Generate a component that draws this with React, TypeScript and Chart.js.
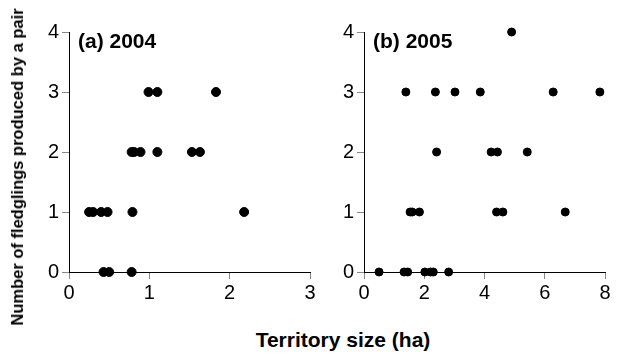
import React, { useEffect, useRef } from "react";
import { Chart, registerables } from "chart.js";

Chart.register(...registerables);

const yTicks = [0, 1, 2, 3, 4];
const xTicksA = [0, 1, 2, 3];
const xTicksB = [0, 2, 4, 6, 8];

const sizeA2004 = [0.99, 1.1, 1.83, 0.78, 0.81, 0.89, 1.1, 1.53, 1.63, 0.25, 0.3, 0.4, 0.48, 0.79, 2.18, 0.43, 0.5, 0.78];
const fledgA2004 = [3, 3, 3, 2, 2, 2, 2, 2, 2, 1, 1, 1, 1, 1, 1, 0, 0, 0];

const sizeB2005 = [4.9, 1.39, 2.37, 3.02, 3.86, 6.28, 7.83, 2.41, 4.22, 4.43, 5.42, 1.53, 1.6, 1.84, 4.4, 4.61, 6.68, 0.5, 1.33, 1.45, 2.02, 2.21, 2.3, 2.81];
const fledgB2005 = [4, 3, 3, 3, 3, 3, 3, 2, 2, 2, 2, 1, 1, 1, 1, 1, 1, 0, 0, 0, 0, 0, 0, 0];

const FONT = "'Liberation Sans', Arial, sans-serif";

type PanelProps = {
  left: number;
  width: number;
  xs: number[];
  ys: number[];
  xTicks: number[];
  xMax: number;
  label: string;
  yWidth: number;
  padRight: number;
  radius: number;
};

function Panel(props: PanelProps) {
  const ref = useRef<HTMLCanvasElement | null>(null);
  useEffect(() => {
    if (!ref.current) return;
    const { xs, ys, xTicks, xMax, label, yWidth, padRight, radius } = props;
    const data = xs.map((x, i) => ({ x, y: ys[i] }));
    const labelPlugin = {
      id: "panelLabel",
      afterDraw(chart: any) {
        const { ctx, chartArea } = chart;
        ctx.save();
        ctx.font = `bold 21px ${FONT}`;
        ctx.fillStyle = "#000";
        ctx.textBaseline = "middle";
        ctx.textAlign = "left";
        ctx.fillText(label, chartArea.left + 9, chartArea.top + 10);
        ctx.restore();
      },
    };
    const chart = new Chart(ref.current, {
      type: "scatter",
      data: {
        datasets: [
          {
            data,
            backgroundColor: "#000",
            borderColor: "#000",
            pointRadius: radius,
            pointHoverRadius: radius,
            clip: false,
          } as any,
        ],
      },
      options: {
        animation: false,
        responsive: false,
        events: [],
        layout: { padding: { top: 32, right: padRight, left: 0, bottom: 0 } },
        plugins: { legend: { display: false }, tooltip: { enabled: false } },
        scales: {
          x: {
            type: "linear",
            min: 0,
            max: xMax,
            afterBuildTicks: (s: any) => {
              s.ticks = xTicks.map((v) => ({ value: v }));
            },
            afterFit: (s: any) => {
              s.height = 48;
            },
            ticks: { color: "#000", font: { family: FONT, size: 20 }, padding: 2, maxRotation: 0 },
            grid: { drawOnChartArea: false, color: "#888", tickLength: 7 },
            border: { color: "#000", width: 1 },
          },
          y: {
            type: "linear",
            min: 0,
            max: 4,
            afterBuildTicks: (s: any) => {
              s.ticks = yTicks.map((v) => ({ value: v }));
            },
            afterFit: (s: any) => {
              s.width = yWidth;
            },
            ticks: { color: "#000", font: { family: FONT, size: 20 }, padding: 3 },
            grid: { drawOnChartArea: false, color: "#888", tickLength: 7 },
            border: { color: "#000", width: 1 },
          },
        },
      },
      plugins: [labelPlugin],
    });
    return () => chart.destroy();
  }, []);
  return (
    <div style={{ position: "absolute", left: props.left, top: 0, width: props.width, height: 320 }}>
      <canvas ref={ref} width={props.width} height={320} style={{ display: "block" }} />
    </div>
  );
}

export default function App() {
  return (
    <div style={{ position: "absolute", left: 0, top: 0, width: 618, height: 354, background: "#fff", overflow: "hidden" }}>
      <Panel
        left={20}
        width={300}
        xs={sizeA2004}
        ys={fledgA2004}
        xTicks={xTicksA}
        xMax={3}
        label="(a) 2004"
        yWidth={49}
        padRight={10}
        radius={4.5}
      />
      <Panel
        left={320}
        width={298}
        xs={sizeB2005}
        ys={fledgB2005}
        xTicks={xTicksB}
        xMax={8}
        label="(b) 2005"
        yWidth={44}
        padRight={13}
        radius={4}
      />
      <div
        style={{
          position: "absolute",
          left: 17,
          top: 167,
          transform: "translate(-50%, -50%) rotate(-90deg)",
          whiteSpace: "nowrap",
          fontFamily: FONT,
          fontWeight: "bold",
          fontSize: 16.5,
          lineHeight: "20px",
          color: "#000",
        }}
      >
        Number of fledglings produced by a pair
      </div>
      <div
        style={{
          position: "absolute",
          left: 343,
          top: 340,
          transform: "translate(-50%, -50%)",
          whiteSpace: "nowrap",
          fontFamily: FONT,
          fontWeight: "bold",
          fontSize: 21,
          lineHeight: "24px",
          color: "#000",
        }}
      >
        Territory size (ha)
      </div>
    </div>
  );
}
